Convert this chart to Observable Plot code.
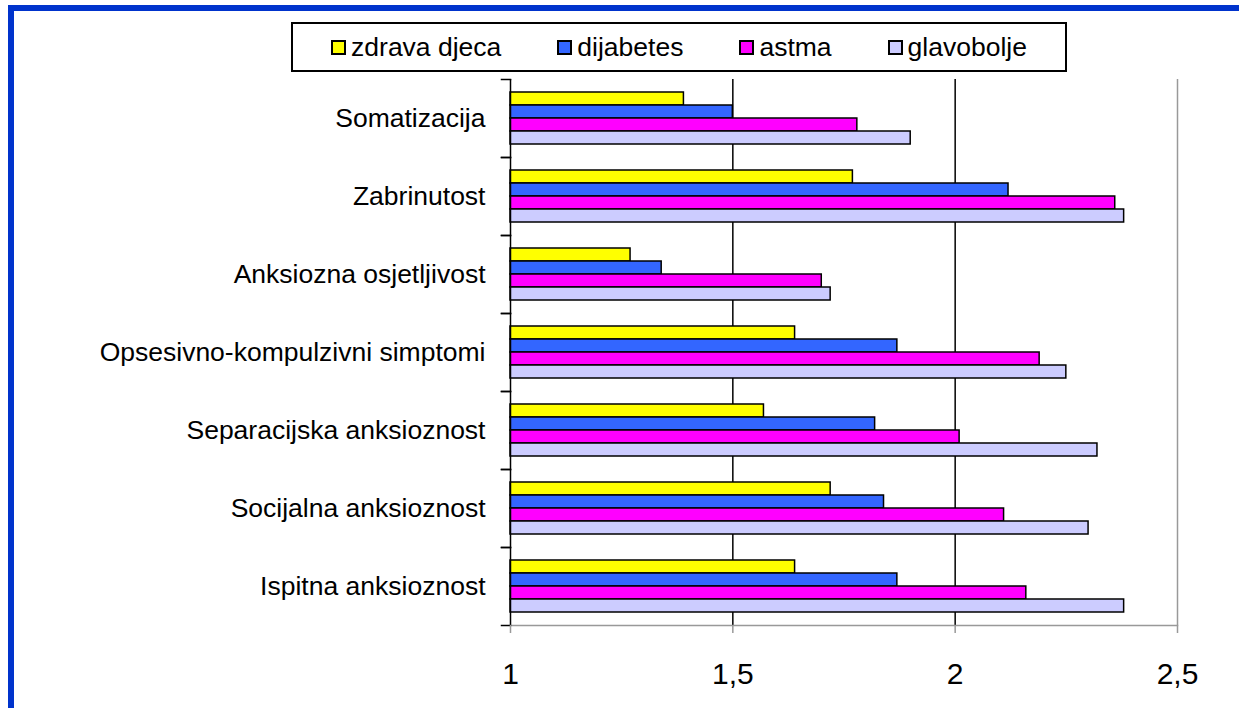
<!DOCTYPE html>
<html>
<head>
<meta charset="utf-8">
<script src="https://cdn.jsdelivr.net/npm/d3@7"></script>
<script src="https://cdn.jsdelivr.net/npm/@observablehq/plot@0.6"></script>
<style>
  html, body { margin: 0; padding: 0; background: #fff; }
  #wrap { position: relative; width: 1239px; height: 708px; overflow: hidden; font-family: "Liberation Sans", Arial, sans-serif; }
  #chart { position: absolute; left: 0; top: 0; }
  .bord-top { position: absolute; left: 8px; top: 5px; width: 1231px; height: 6px; background: #0033CC; }
  .bord-left { position: absolute; left: 8px; top: 5px; width: 6px; height: 703px; background: #0033CC; }
  #legend { position: absolute; left: 291px; top: 22px; width: 772px; height: 46px; border: 2px solid #000; background: #fff;
            display: flex; align-items: center; justify-content: center; gap: 56px; font-size: 26.5px; color: #000; }
  .item { display: flex; align-items: center; gap: 5px; white-space: nowrap; }
  .sw { width: 11px; height: 11px; border: 2px solid #000; }
</style>
</head>
<body>
<div id="wrap">
  <div id="chart"></div>
  <div class="bord-top"></div>
  <div class="bord-left"></div>
  <div id="legend"></div>
</div>
<script>
const categories = [
  "Somatizacija",
  "Zabrinutost",
  "Anksiozna osjetljivost",
  "Opsesivno-kompulzivni simptomi",
  "Separacijska anksioznost",
  "Socijalna anksioznost",
  "Ispitna anksioznost"
];
const series = ["zdrava djeca", "dijabetes", "astma", "glavobolje"];
const zdravaDjeca = [1.39, 1.77, 1.27, 1.64, 1.57, 1.72, 1.64];
const dijabetes   = [1.50, 2.12, 1.34, 1.87, 1.82, 1.84, 1.87];
const astma       = [1.78, 2.36, 1.70, 2.19, 2.01, 2.11, 2.16];
const glavobolje  = [1.90, 2.38, 1.72, 2.25, 2.32, 2.30, 2.38];
const colors = ["#FFFF00", "#3366FF", "#FF00FF", "#CCCCFF"];
const xDomain = [1, 2.5];
const xTicks = [1, 1.5, 2, 2.5];
const gridValues = [1.5, 2];

const seriesValues = [zdravaDjeca, dijabetes, astma, glavobolje];
const rows = categories.flatMap((c, i) => series.map((s, j) => ({category: c, series: s, value: seriesValues[j][i]})));

const W = 1239, H = 708, ML = 510, MR = 62, MT = 76, MB = 80;
const plotW = W - ML - MR;
const fmt = d => String(d).replace(".", ",");

const chart = Plot.plot({
  width: W, height: H,
  marginLeft: ML, marginRight: MR, marginTop: MT, marginBottom: MB,
  style: {fontFamily: "'Liberation Sans', Arial, sans-serif", background: "transparent", color: "#000"},
  x: {domain: xDomain},
  y: {domain: series, paddingInner: 0, paddingOuter: 0.82, axis: null},
  fy: {domain: categories, padding: 0},
  color: {domain: series, range: colors},
  marks: [
    Plot.ruleX(gridValues, {stroke: "#000", strokeWidth: 1.5}),
    Plot.ruleX([xDomain[1]], {stroke: "#999", strokeWidth: 1.5}),
    Plot.barX(rows, {fy: "category", y: "series", x1: () => xDomain[0], x2: "value", fill: "series", stroke: "#000", strokeWidth: 1.5}),
    Plot.ruleX([xDomain[0]], {stroke: "#000", strokeWidth: 1.5}),
    Plot.frame({anchor: "bottom", stroke: "#999", strokeWidth: 1.5, facetAnchor: "bottom"}),
    Plot.frame({anchor: "top", stroke: "#000", strokeWidth: 1.5, insetLeft: -9, insetRight: plotW}),
    Plot.frame({anchor: "bottom", stroke: "#000", strokeWidth: 1.5, insetLeft: -9, insetRight: plotW}),
    Plot.axisX({ticks: xTicks, tickSize: 8, stroke: "#999", strokeWidth: 1.5, tickFormat: () => "", label: null}),
    Plot.axisX({ticks: xTicks, tickSize: 0, tickPadding: 37, fontSize: 30, tickFormat: fmt, label: null}),
    Plot.axisFy({anchor: "left", tickSize: 0, tickPadding: 25, fontSize: 26.5, label: null})
  ]
});
document.getElementById("chart").appendChild(chart);

const legend = document.getElementById("legend");
series.forEach((s, i) => {
  const it = document.createElement("div");
  it.className = "item";
  const sw = document.createElement("span");
  sw.className = "sw";
  sw.style.background = colors[i];
  const t = document.createElement("span");
  t.textContent = s;
  it.appendChild(sw); it.appendChild(t);
  legend.appendChild(it);
});
</script>
</body>
</html>
